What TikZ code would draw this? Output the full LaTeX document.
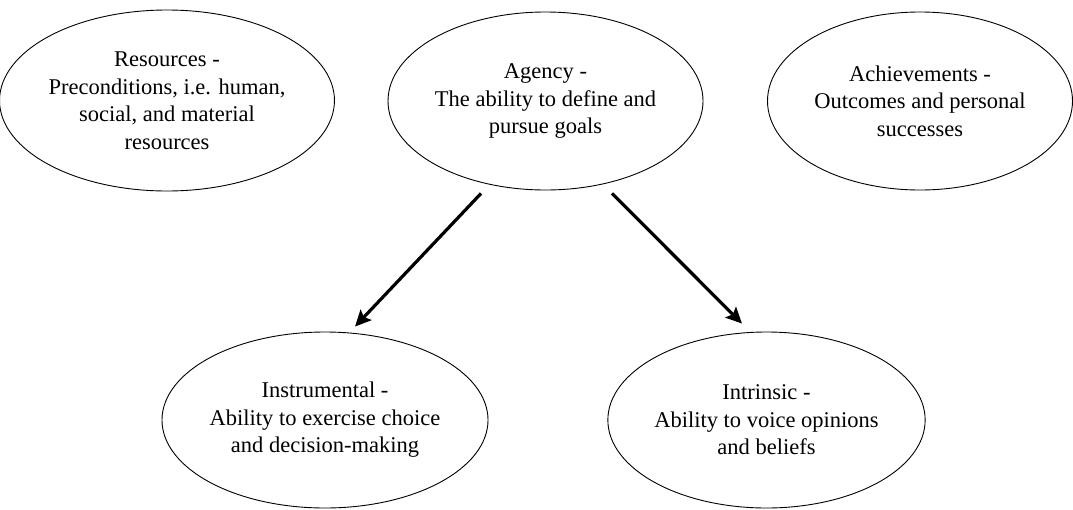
\documentclass[tikz,border=0pt]{standalone}
\usepackage{fontspec}
\setmainfont{Liberation Serif}
\usetikzlibrary{shapes.geometric,arrows.meta}
\begin{document}
\begin{tikzpicture}[x=1pt,y=-1pt,
  oval/.style={ellipse, draw, line width=0.9pt, inner sep=0pt, align=center,
    font=\fontsize{22.5}{27.5}\selectfont},
  conn/.style={line width=3.2pt, -{Stealth[length=16pt,width=15pt,inset=3pt]}}]
\useasboundingbox (0,0) rectangle (1073,509);
\node[oval, minimum width=316pt, minimum height=181pt] (res) at (167,100.5)
  {Resources -\\Preconditions, i.e. human,\\social, and material\\resources};
\node[oval, minimum width=315pt, minimum height=178pt] (agency) at (545.5,101)
  {Agency -\\The ability to define and\\pursue goals};
\node[oval, minimum width=305pt, minimum height=178pt] (ach) at (920,101)
  {Achievements -\\Outcomes and personal\\successes};
\node[oval, minimum width=316pt, minimum height=176pt] (instr) at (325,420)
  {Instrumental -\\Ability to exercise choice\\and decision-making};
\node[oval, minimum width=315pt, minimum height=176pt] (intr) at (766.5,420)
  {Intrinsic -\\Ability to voice opinions\\and beliefs};
\draw[conn] ([xshift=-64.5pt,yshift=-3pt]agency.south) -- ([xshift=30pt,yshift=5pt]instr.north);
\draw[conn] ([xshift=66.5pt,yshift=-3pt]agency.south) -- ([xshift=-24.5pt,yshift=8pt]intr.north);
\end{tikzpicture}
\end{document}
